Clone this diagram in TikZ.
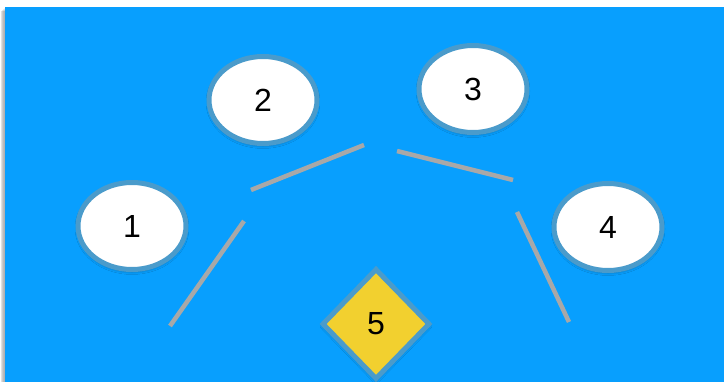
\documentclass[tikz,border=0pt]{standalone}
\usepackage{fontspec}
\setmainfont{Liberation Sans}
\usetikzlibrary{shapes.geometric,shadows.blur}
\definecolor{sky}{HTML}{089FFE}
\definecolor{rim}{HTML}{4A9BCB}
\definecolor{bar}{HTML}{A8A8A8}
\definecolor{gold}{HTML}{F2D02F}
\tikzset{
  x=1pt, y=-1pt,
  bubble/.style={ellipse, draw=rim, line width=5pt, fill=white,
    minimum width=108pt, minimum height=87pt, inner sep=0pt,
    font=\fontsize{32}{36}\selectfont,
    blur shadow={shadow xshift=0pt, shadow yshift=-2pt, shadow blur radius=3pt, shadow opacity=35}},
  gem/.style={diamond, draw=rim, line width=5pt, fill=gold,
    minimum width=108pt, minimum height=111pt, inner sep=0pt,
    font=\fontsize{32}{36}\selectfont,
    blur shadow={shadow xshift=0pt, shadow yshift=-2pt, shadow blur radius=3pt, shadow opacity=35}},
  link/.style={draw=bar, line width=4.5pt}
}
\begin{document}
\begin{tikzpicture}
\useasboundingbox (0,0) rectangle (724,382);
\fill[white] (0,0) rectangle (724,382);
% soft shadow along the left edge of the panel
\foreach \i/\o in {1/0.05,2/0.07,3/0.09,4/0.12} {
  \fill[black, opacity=\o] (5-\i,7+\i) rectangle (5,382);
}
\fill[sky] (5,7) rectangle (724,382);

\node[bubble] (n1) at (132,226) {1};
\node[bubble] (n2) at (263,100) {2};
\node[bubble] (n3) at (473,89) {3};
\node[bubble] (n4) at (608,227) {4};
\node[gem] (n5) at (376,324) {5};

\coordinate (a1) at (170,326); \coordinate (a2) at (244,221);
\coordinate (b1) at (251,190); \coordinate (b2) at (364,145);
\coordinate (c1) at (397,151); \coordinate (c2) at (513,180);
\coordinate (d1) at (517,212); \coordinate (d2) at (569,322);
\draw[link] (a1) -- (a2);
\draw[link] (b1) -- (b2);
\draw[link] (c1) -- (c2);
\draw[link] (d1) -- (d2);
\end{tikzpicture}
\end{document}
